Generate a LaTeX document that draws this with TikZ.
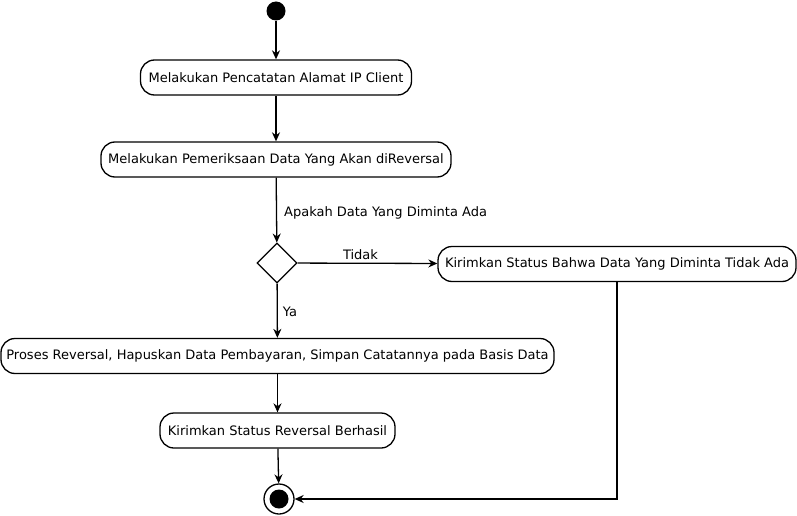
\documentclass[tikz,border=0pt]{standalone}
\usepackage{fontspec}
\setmainfont{DejaVu Sans}
\usetikzlibrary{arrows.meta, shapes.geometric, positioning}

\begin{document}
\begin{tikzpicture}[
    x=1pt, y=-1pt,
    action/.style={
        rectangle, draw, line width=1.3pt, rounded corners=14pt,
        minimum height=35pt, inner xsep=0pt,
        align=center, font=\fontsize{13}{15}\selectfont
    },
    decision/.style={
        diamond, draw, line width=1.3pt, aspect=1,
        minimum width=40pt, minimum height=40pt, inner sep=0pt
    },
    startnode/.style={circle, fill=black, minimum size=19pt, inner sep=0pt},
    endnode/.style={circle, draw, line width=1.3pt, minimum size=30pt, inner sep=0pt},
    >={Stealth[length=9pt, width=8pt]},
    flow/.style={->, line width=1.3pt},
    lbl/.style={font=\fontsize{13}{15}\selectfont, inner sep=1pt}
]
\useasboundingbox (0,0) rectangle (797,516);

\node[startnode] (start) at (276, 11) {};
\node[action, minimum width=271pt] (catat) at (276, 77.5) {Melakukan Pencatatan Alamat IP Client};
\node[action, minimum width=350pt] (periksa) at (276, 159.5) {Melakukan Pemeriksaan Data Yang Akan diReversal};
\node[decision] (cek) at (277, 263) {};
\node[action, minimum width=358pt] (tidakada) at (617, 264) {Kirimkan Status Bahwa Data Yang Diminta Tidak Ada};
\node[action, minimum width=553pt] (proses) at (277.5, 356) {Proses Reversal, Hapuskan Data Pembayaran, Simpan Catatannya pada Basis Data};
\node[action, minimum width=235pt] (berhasil) at (277.5, 430.5) {Kirimkan Status Reversal Berhasil};
\node[endnode] (selesai) at (279, 499) {};
\node[circle, fill=black, minimum size=19pt, inner sep=0pt] (selesaidot) at (selesai) {};

\draw[flow] (start) -- (catat);
\draw[flow] (catat) -- (periksa);
\draw[flow] (periksa) -- node[lbl, right, xshift=6pt, yshift=-3pt]{Apakah Data Yang Diminta Ada} (cek);
\draw[flow] (cek) -- node[lbl, above, pos=0.45, yshift=2pt]{Tidak} (tidakada);
\draw[flow] (cek) -- node[lbl, right, xshift=4pt, yshift=-1pt]{Ya} (proses);
\draw[flow] (proses) -- (berhasil);
\draw[flow] (berhasil) -- (selesai);
\draw[flow] (tidakada) |- (selesai);

\end{tikzpicture}
\end{document}
